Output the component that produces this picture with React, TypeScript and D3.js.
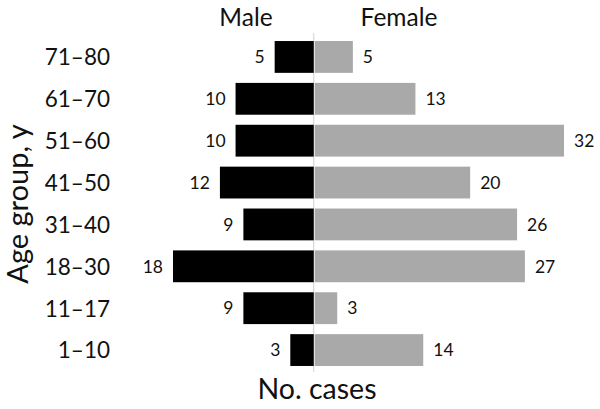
import React from "react";
import * as d3 from "d3";

const ageGroups = ["71–80", "61–70", "51–60", "41–50", "31–40", "18–30", "11–17", "1–10"];
const maleCases = [5, 10, 10, 12, 9, 18, 9, 3];
const femaleCases = [5, 13, 32, 20, 26, 27, 3, 14];

const W = 600;
const H = 409;
const font = "Lato, 'Open Sans', sans-serif";

export default function App() {
  // negative side = male, positive side = female
  const x = d3.scaleLinear().domain([-18, 32]).range([173, 564]);
  const y = d3.scaleBand<string>().domain(ageGroups).range([36, 371]).paddingInner(0.24).paddingOuter(0.12);
  const x0 = x(0);
  const bh = y.bandwidth();

  return (
    <svg width={W} height={H} style={{ position: "absolute", left: 0, top: 0, background: "#fff" }} fontFamily={font}>
      {/* center axis */}
      <line x1={x0} x2={x0} y1={33} y2={372} stroke="#cfcfcf" strokeWidth={1} />

      {ageGroups.map((g, i) => {
        const yy = y(g)!;
        const cy = yy + bh / 2;
        const m = maleCases[i];
        const f = femaleCases[i];
        return (
          <g key={g}>
            <rect x={x(-m)} y={yy} width={x0 - x(-m)} height={bh} fill="#000" />
            <rect x={x0 + 1} y={yy} width={x(f) - x0 - 1} height={bh} fill="#a9a9a9" />
            <text x={x(-m) - 10} y={cy} dy="0.36em" textAnchor="end" fontSize={17.5} fill="#111">{m}</text>
            <text x={x(f) + 10} y={cy} dy="0.36em" textAnchor="start" fontSize={17.5} fill="#111">{f}</text>
            <text x={110} y={cy} dy="0.37em" textAnchor="end" fontSize={22.5} fill="#111">{g}</text>
          </g>
        );
      })}

      <text x={246} y={26} textAnchor="middle" fontSize={24.5} fill="#111">Male</text>
      <text x={399} y={26} textAnchor="middle" fontSize={24.5} fill="#111">Female</text>
      <text x={317} y={399} textAnchor="middle" fontSize={28.5} fill="#111">No. cases</text>
      <text transform="translate(28,204) rotate(-90)" textAnchor="middle" fontSize={29} fill="#111">Age group, y</text>
    </svg>
  );
}
